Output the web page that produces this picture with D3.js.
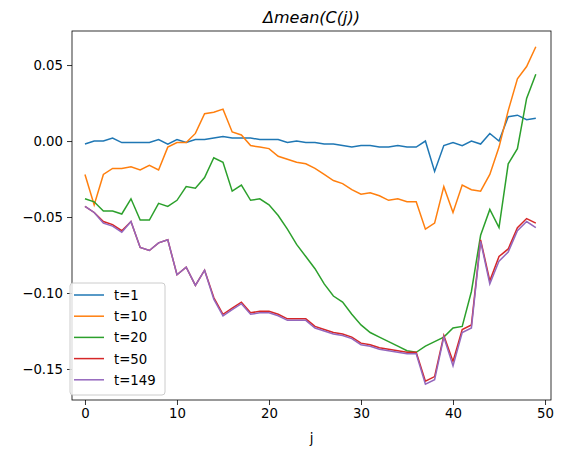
<!DOCTYPE html><html><head><meta charset="utf-8"><script src="https://cdn.jsdelivr.net/npm/d3@7"></script>
<style>body{margin:0;background:#fff}text{font-family:"DejaVu Sans",sans-serif}</style></head><body><svg id="c" width="568" height="454"></svg>
<script>
const names=["t=1","t=10","t=20","t=50","t=149"];
const colors=["#1f77b4","#ff7f0e","#2ca02c","#d62728","#9467bd"];
const s1=[-0.002,0,0,0.002,-0.001,-0.001,-0.001,-0.001,0.001,-0.002,0.001,-0.001,0.001,0.001,0.002,0.003,0.002,0.002,0.002,0.001,0.001,0.001,-0.001,0,-0.001,-0.001,-0.002,-0.002,-0.003,-0.004,-0.003,-0.003,-0.004,-0.004,-0.003,-0.004,-0.004,0,-0.02,-0.003,-0.001,-0.003,0,-0.002,0.005,0,0.016,0.017,0.014,0.015];
const s10=[-0.022,-0.042,-0.022,-0.018,-0.018,-0.017,-0.019,-0.016,-0.019,-0.004,-0.001,-0.001,0.005,0.018,0.019,0.021,0.006,0.004,-0.003,-0.004,-0.005,-0.01,-0.012,-0.014,-0.015,-0.018,-0.022,-0.026,-0.028,-0.032,-0.035,-0.034,-0.036,-0.039,-0.038,-0.040,-0.040,-0.058,-0.054,-0.030,-0.047,-0.029,-0.032,-0.033,-0.022,-0.004,0.02,0.041,0.049,0.062];
const s20=[-0.038,-0.040,-0.046,-0.046,-0.048,-0.038,-0.052,-0.052,-0.041,-0.043,-0.039,-0.030,-0.031,-0.024,-0.011,-0.014,-0.033,-0.029,-0.039,-0.038,-0.042,-0.049,-0.058,-0.068,-0.076,-0.084,-0.094,-0.102,-0.106,-0.114,-0.121,-0.126,-0.129,-0.132,-0.135,-0.138,-0.139,-0.135,-0.132,-0.129,-0.123,-0.122,-0.099,-0.062,-0.045,-0.057,-0.015,-0.005,0.028,0.044];
const s50=[-0.043,-0.047,-0.053,-0.055,-0.059,-0.053,-0.070,-0.072,-0.067,-0.065,-0.088,-0.083,-0.095,-0.085,-0.103,-0.114,-0.110,-0.106,-0.113,-0.112,-0.112,-0.114,-0.117,-0.117,-0.117,-0.122,-0.124,-0.126,-0.127,-0.129,-0.133,-0.134,-0.136,-0.137,-0.138,-0.139,-0.139,-0.158,-0.155,-0.128,-0.145,-0.124,-0.121,-0.065,-0.092,-0.076,-0.071,-0.057,-0.051,-0.054];
const s149=[-0.043,-0.047,-0.054,-0.056,-0.060,-0.053,-0.070,-0.072,-0.067,-0.065,-0.088,-0.083,-0.095,-0.085,-0.104,-0.115,-0.111,-0.107,-0.114,-0.113,-0.113,-0.115,-0.118,-0.118,-0.118,-0.123,-0.125,-0.127,-0.128,-0.130,-0.134,-0.135,-0.137,-0.138,-0.139,-0.140,-0.140,-0.160,-0.157,-0.129,-0.148,-0.126,-0.123,-0.066,-0.094,-0.079,-0.073,-0.059,-0.053,-0.057];
const series=[s1,s10,s20,s50,s149];
const xTicks=[0,10,20,30,40,50];
const yTicks=[0.05,0,-0.05,-0.10,-0.15];
const L=72,R=551,T=31,B=400;
const svg=d3.select("#c");
const x=d3.scaleLinear().domain([-1.41,50.65]).range([L,R]);
const y=d3.scaleLinear().domain([-0.1704,0.0724]).range([B,T]);
const line=d3.line().x((d,i)=>x(i)).y(d=>y(d));
series.forEach((s,k)=>svg.append("path").attr("d",line(s)).attr("fill","none").attr("stroke",colors[k]).attr("stroke-width",1.5));
svg.append("rect").attr("x",L).attr("y",T).attr("width",R-L).attr("height",B-T).attr("fill","none").attr("stroke","#000").attr("stroke-width",0.8);
const xa=svg.append("g").attr("transform",`translate(0,${B})`).call(d3.axisBottom(x).tickValues(xTicks).tickSize(5).tickPadding(4).tickFormat(d3.format("d")));
const ya=svg.append("g").attr("transform",`translate(${L},0)`).call(d3.axisLeft(y).tickValues(yTicks).tickSize(5).tickPadding(4).tickFormat(d=>d3.format(".2f")(d).replace("-","−")));
[xa,ya].forEach(a=>{a.select(".domain").remove();a.selectAll("text").attr("font-size",13.3).attr("fill","#000");a.selectAll("line").attr("stroke","#000").attr("stroke-width",0.8);});
svg.append("text").attr("x",(L+R)/2).attr("y",23).attr("text-anchor","middle").attr("font-size",16).attr("font-style","italic").text("Δmean(C(j))");
svg.append("text").attr("x",(L+R)/2).attr("y",443).attr("text-anchor","middle").attr("font-size",13.3).text("j");
const lg=svg.append("g");
lg.append("rect").attr("x",70).attr("y",283).attr("width",95).attr("height",112).attr("rx",3).attr("fill","#fff").attr("fill-opacity",0.8).attr("stroke","#ccc");
names.forEach((n,k)=>{const yy=295+k*21.2;
lg.append("line").attr("x1",74).attr("x2",104).attr("y1",yy).attr("y2",yy).attr("stroke",colors[k]).attr("stroke-width",1.5);
lg.append("text").attr("x",114).attr("y",yy+5).attr("font-size",13.3).text(n);});
</script></body></html>
